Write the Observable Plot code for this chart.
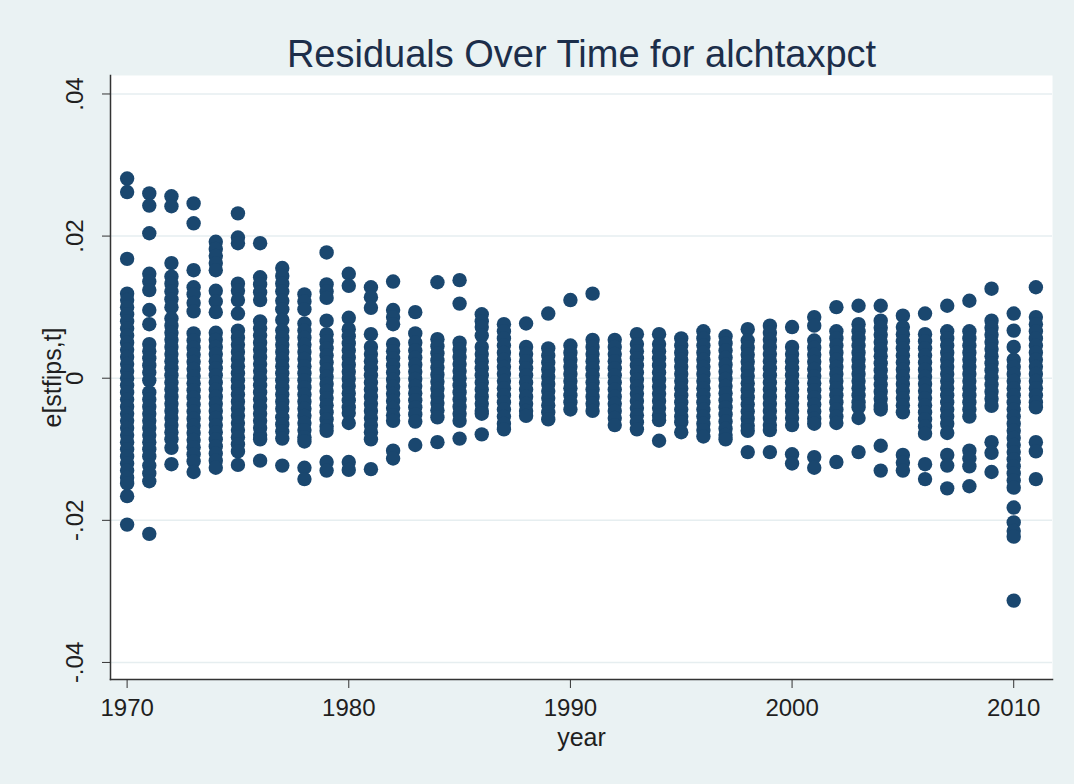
<!DOCTYPE html>
<html>
<head>
<meta charset="utf-8">
<script src="https://cdn.jsdelivr.net/npm/d3@7"></script>
<script src="https://cdn.jsdelivr.net/npm/@observablehq/plot@0.6"></script>
<style>
  html, body { margin: 0; padding: 0; background: #eaf2f3; }
  #chart svg { display: block; }
</style>
</head>
<body>
<div id="chart"></div>
<script>
// Chart texts
const chartTitle = "Residuals Over Time for alchtaxpct";
const xTitle = "year";
const yTitle = "e[stfips,t]";

// Axis ticks
const xTicks = [1970, 1980, 1990, 2000, 2010];
const yTicks = [-0.04, -0.02, 0, 0.02, 0.04];
const yTickLabels = ["-.04", "-.02", "0", ".02", ".04"];

// Years (one column of residuals per year)
const years = [1970,1971,1972,1973,1974,1975,1976,1977,1978,1979,1980,1981,1982,1983,1984,1985,1986,1987,1988,1989,1990,
               1991,1992,1993,1994,1995,1996,1997,1998,1999,2000,2001,2002,2003,2004,2005,2006,2007,2008,2009,2010,2011];

// Residuals e[stfips,t] per year, in thousandths
const e1970 = [28.1,26.2,16.8,11.9,11.0,10.0,9.0,8.0,7.0,6.0,5.0,4.0,3.0,2.0,1.0,0.0,-1.0,-2.0,-3.0,-4.0,-5.0,-6.0,-7.0,-8.0,-9.0,-10.0,-11.0,-12.0,-13.0,-14.0,-14.8,-16.6,-20.6];
const e1971 = [26.0,24.3,20.4,14.7,13.6,12.4,9.6,7.6,4.8,3.8,2.8,1.8,0.8,-0.3,-2.0,-3.0,-4.0,-5.0,-6.0,-7.0,-8.0,-9.0,-10.0,-11.0,-12.3,-13.4,-14.5,-21.9];
const e1972 = [25.6,24.2,16.2,14.3,13.3,12.2,11.1,10.0,8.4,7.4,6.4,5.4,4.4,3.4,2.4,1.4,0.4,-0.6,-1.6,-2.6,-3.6,-4.6,-5.6,-6.6,-7.6,-8.6,-9.8,-12.1];
const e1973 = [24.6,21.8,15.2,12.8,11.8,10.6,9.4,6.3,5.3,4.3,3.3,2.3,1.3,0.3,-0.7,-1.7,-2.7,-3.7,-4.7,-5.7,-6.7,-7.7,-8.7,-9.7,-10.7,-11.7,-13.2];
const e1974 = [19.2,18.2,17.2,16.2,15.2,12.3,10.8,9.3,6.4,5.4,4.4,3.4,2.4,1.4,0.4,-0.6,-1.6,-2.6,-3.6,-4.6,-5.6,-6.6,-7.6,-8.6,-9.6,-10.6,-11.6,-12.6];
const e1975 = [23.2,19.8,19.0,13.3,12.3,11.0,9.1,6.7,5.7,4.7,3.7,2.7,1.7,0.7,-0.3,-1.3,-2.3,-3.3,-4.3,-5.3,-6.3,-7.3,-8.3,-9.3,-10.3,-12.2];
const e1976 = [19.0,14.2,13.2,12.1,11.0,8.0,7.0,6.0,5.0,4.0,3.0,2.0,1.0,0.0,-1.0,-2.0,-3.0,-4.0,-5.0,-6.0,-7.0,-8.0,-8.6,-11.6];
const e1977 = [15.5,14.4,13.3,12.2,10.9,9.7,8.2,6.7,5.7,4.7,3.7,2.7,1.7,0.7,-0.3,-1.3,-2.3,-3.3,-4.3,-5.5,-6.5,-7.5,-8.5,-12.3];
const e1978 = [11.8,10.8,9.7,7.7,6.7,5.7,4.7,3.7,2.7,1.7,0.7,-0.3,-1.3,-2.3,-3.3,-4.3,-5.3,-6.3,-7.3,-8.3,-8.9,-12.6,-14.2];
const e1979 = [17.7,13.2,12.2,11.3,8.1,6.2,5.2,4.2,3.2,2.2,1.2,0.2,-0.8,-1.8,-2.8,-3.8,-4.8,-5.8,-6.8,-7.4,-11.8,-13.0];
const e1980 = [14.7,13.0,8.5,6.9,5.9,4.9,3.9,2.9,1.9,0.9,-0.1,-1.1,-2.1,-3.1,-4.1,-4.9,-6.3,-11.8,-12.9];
const e1981 = [12.8,11.4,9.9,6.2,4.4,3.4,2.4,1.4,0.4,-0.6,-1.6,-2.6,-3.6,-4.6,-5.6,-6.6,-7.6,-8.6,-12.8];
const e1982 = [13.6,9.6,8.6,7.6,4.8,3.8,2.8,1.8,0.8,-0.2,-1.2,-2.2,-3.2,-4.2,-5.2,-6.0,-10.2,-11.3];
const e1983 = [9.3,6.3,5.0,3.9,2.9,1.9,0.9,-0.1,-1.1,-2.1,-3.1,-4.1,-5.1,-6.1,-9.4];
const e1984 = [13.5,5.5,4.5,3.5,2.5,1.5,0.5,-0.5,-1.5,-2.5,-3.5,-4.5,-5.5,-9.0];
const e1985 = [13.8,10.5,5.0,4.0,3.0,2.0,1.0,0.0,-1.0,-2.0,-3.0,-4.0,-5.0,-6.0,-8.5];
const e1986 = [9.0,8.0,7.2,6.0,4.4,3.4,2.4,1.4,0.4,-0.6,-1.6,-2.6,-3.6,-4.6,-5.0,-7.9];
const e1987 = [7.6,6.6,5.6,4.6,3.6,2.6,1.6,0.6,-0.4,-1.4,-2.4,-3.4,-4.4,-5.4,-6.4,-7.2];
const e1988 = [7.7,4.4,3.4,2.4,1.4,0.4,-0.6,-1.6,-2.6,-3.6,-4.6,-5.3];
const e1989 = [9.1,4.2,3.2,2.2,1.2,0.2,-0.8,-1.8,-2.8,-3.8,-4.8,-5.8];
const e1990 = [11.0,4.6,3.6,2.6,1.6,0.6,-0.4,-1.4,-2.4,-3.4,-4.4];
const e1991 = [11.9,5.4,4.4,3.4,2.4,1.4,0.4,-0.6,-1.6,-2.6,-3.6,-4.6];
const e1992 = [5.4,4.4,3.4,2.4,1.4,0.4,-0.6,-1.6,-2.6,-3.6,-4.6,-5.6,-6.6];
const e1993 = [6.2,4.8,3.8,2.8,1.8,0.8,-0.2,-1.2,-2.2,-3.2,-4.2,-5.2,-6.2,-7.2];
const e1994 = [6.2,4.8,3.8,2.8,1.8,0.8,-0.2,-1.2,-2.2,-3.2,-4.2,-5.2,-5.9,-8.8];
const e1995 = [5.6,4.6,3.6,2.6,1.6,0.6,-0.4,-1.4,-2.4,-3.4,-4.4,-5.4,-6.2,-7.6];
const e1996 = [6.6,5.6,4.6,3.6,2.6,1.6,0.6,-0.4,-1.4,-2.4,-3.4,-4.4,-5.4,-6.4,-7.3,-8.2];
const e1997 = [5.9,4.9,3.9,2.9,1.9,0.9,-0.1,-1.1,-2.1,-3.1,-4.1,-5.1,-6.1,-7.1,-8.0,-8.6];
const e1998 = [6.9,5.3,4.3,3.3,2.3,1.3,0.3,-0.7,-1.7,-2.7,-3.7,-4.7,-5.7,-6.7,-7.4,-10.4];
const e1999 = [7.4,6.4,5.4,4.4,3.4,2.4,1.4,0.4,-0.6,-1.6,-2.6,-3.6,-4.6,-5.6,-6.6,-7.3,-10.4];
const e2000 = [7.2,4.4,3.4,2.4,1.4,0.4,-0.6,-1.6,-2.6,-3.6,-4.6,-5.6,-6.6,-10.7,-12.0];
const e2001 = [8.6,7.4,5.3,4.3,3.3,2.3,1.3,0.3,-0.7,-1.7,-2.7,-3.7,-4.7,-5.7,-6.4,-11.1,-12.6];
const e2002 = [10.0,6.6,5.6,4.6,3.6,2.6,1.6,0.6,-0.4,-1.4,-2.4,-3.4,-4.4,-5.4,-6.3,-11.8];
const e2003 = [10.2,7.6,6.6,5.6,4.6,3.6,2.6,1.6,0.6,-0.4,-1.4,-2.4,-3.4,-4.1,-5.6,-10.4];
const e2004 = [10.2,8.1,7.1,6.1,5.1,4.1,3.1,2.1,1.1,0.1,-0.9,-1.9,-2.9,-3.9,-4.4,-9.5,-13.0];
const e2005 = [8.8,7.2,6.2,5.2,4.2,3.2,2.2,1.2,0.2,-0.8,-1.8,-2.8,-3.8,-4.8,-10.8,-11.9,-13.0];
const e2006 = [9.1,6.2,5.2,4.2,3.2,2.2,1.2,0.2,-0.8,-1.8,-2.8,-3.8,-4.8,-5.8,-6.8,-7.8,-12.1,-14.2];
const e2007 = [10.2,6.6,5.6,4.6,3.6,2.6,1.6,0.6,-0.4,-1.4,-2.4,-3.4,-4.4,-5.4,-6.4,-7.7,-10.8,-12.3,-15.5];
const e2008 = [10.9,6.6,5.6,4.6,3.6,2.6,1.6,0.6,-0.4,-1.4,-2.4,-3.4,-4.4,-5.4,-10.2,-11.3,-12.4,-15.2];
const e2009 = [12.6,8.1,7.1,6.1,5.1,4.1,3.1,2.1,1.1,0.1,-0.9,-1.9,-2.9,-3.9,-9.0,-10.5,-13.2];
const e2010 = [9.1,6.7,4.4,2.6,1.6,0.6,-0.4,-1.4,-2.4,-3.4,-4.4,-5.4,-6.4,-7.4,-8.4,-9.4,-10.4,-11.4,-12.4,-13.4,-14.4,-15.4,-18.2,-20.3,-21.5,-22.3,-31.3];
const e2011 = [12.8,8.6,7.6,6.6,5.6,4.6,3.6,2.6,1.6,0.6,-0.4,-1.4,-2.4,-3.4,-4.1,-9.0,-10.3,-14.2];

const series = [e1970,e1971,e1972,e1973,e1974,e1975,e1976,e1977,e1978,e1979,e1980,e1981,e1982,e1983,e1984,e1985,e1986,e1987,e1988,e1989,e1990,
                e1991,e1992,e1993,e1994,e1995,e1996,e1997,e1998,e1999,e2000,e2001,e2002,e2003,e2004,e2005,e2006,e2007,e2008,e2009,e2010,e2011];

// Long table for Plot (thousandths -> residual units)
const table = years.flatMap((yr, i) => series[i].map(v => ({year: yr, e: v / 1000})));

const font = "'Liberation Sans', Arial, Helvetica, sans-serif";
const navy = "#1a476f";
const axisInk = "#333333";

const chart = Plot.plot({
  width: 1074,
  height: 784,
  marginLeft: 110,
  marginRight: 22,
  marginTop: 75,
  marginBottom: 105,
  style: {background: "#eaf2f3", fontFamily: font, fontSize: "24px", color: "#1f1f1f", overflow: "visible"},
  x: {domain: [1969.25, 2011.75]},
  y: {domain: [-0.0424, 0.0426]},
  marks: [
    Plot.frame({fill: "white", stroke: null}),
    Plot.gridY(yTicks, {stroke: "#e6eef0", strokeOpacity: 1, strokeWidth: 1.5}),
    Plot.dot(table, {x: "year", y: "e", r: 7.2, fill: navy, stroke: null}),
    Plot.frame({anchor: "left", stroke: axisInk, strokeWidth: 1.5}),
    Plot.frame({anchor: "bottom", stroke: axisInk, strokeWidth: 1.5}),
    Plot.axisX(xTicks, {tickSize: 9, tickPadding: 10, fontSize: 24, label: null, stroke: axisInk,
                        tickFormat: d => String(d), fill: "#1f1f1f"}),
    Plot.axisY(yTicks, {tickSize: 8, tickFormat: () => "", label: null, stroke: axisInk}),
    Plot.text(yTicks, {y: d => d, text: (d, i) => yTickLabels[i], frameAnchor: "left", dx: -28,
                       rotate: -90, textAnchor: "middle", lineAnchor: "bottom", fontSize: 24, fill: "#1f1f1f"}),
    Plot.text([yTitle], {text: d => d, frameAnchor: "left", dx: -50, rotate: -90, textAnchor: "middle",
                         lineAnchor: "bottom", fontSize: 25, fill: "#1f1f1f"}),
    Plot.text([xTitle], {text: d => d, frameAnchor: "bottom", dy: 58, lineAnchor: "middle", fontSize: 25, fill: "#1f1f1f"}),
    Plot.text([chartTitle], {text: d => d, frameAnchor: "top", dy: -9, lineAnchor: "bottom", fontSize: 38, fill: "#1c2e4a"})
  ]
});

document.getElementById("chart").appendChild(chart);
</script>
</body>
</html>
